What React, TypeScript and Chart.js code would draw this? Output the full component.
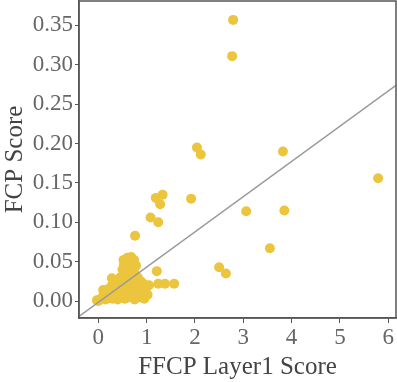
import React, { useEffect, useRef } from "react";
import { Chart, registerables } from "chart.js";

Chart.register(...registerables);

const clusterX = [0.0, 0.05, 0.1, 0.12, 0.15, 0.18, 0.2, 0.22, 0.25, 0.28, 0.3, 0.32, 0.35, 0.35, 0.38, 0.4, 0.42, 0.45, 0.45, 0.48, 0.5, 0.5, 0.52, 0.52, 0.55, 0.55, 0.58, 0.58, 0.6, 0.6, 0.62, 0.63, 0.65, 0.65, 0.67, 0.68, 0.7, 0.7, 0.72, 0.74, 0.75, 0.75, 0.78, 0.78, 0.8, 0.82, 0.85, 0.85, 0.88, 0.9, 0.92, 0.95, 0.98, 1.02, 1.05, -0.03, 0.1, 0.28, 0.53];
const clusterY = [0.0, 0.003, 0.006, 0.012, 0.002, 0.008, 0.015, 0.004, 0.01, 0.02, 0.003, 0.013, 0.006, 0.025, 0.018, 0.002, 0.01, 0.03, 0.005, 0.016, 0.022, 0.04, 0.052, 0.008, 0.035, 0.003, 0.028, 0.045, 0.012, 0.055, 0.02, 0.038, 0.005, 0.048, 0.03, 0.056, 0.015, 0.042, 0.025, 0.052, 0.002, 0.035, 0.01, 0.045, 0.02, 0.03, 0.005, 0.015, 0.025, 0.01, 0.022, 0.003, 0.015, 0.008, 0.02, 0.001, 0.014, 0.029, 0.046];
const outerX = [1.21, 0.76, 0.93, 1.24, 1.38, 1.57, 1.08, 1.24, 1.19, 1.33, 1.28, 1.92, 2.04, 2.12, 2.77, 2.79, 3.06, 3.85, 3.82, 3.55, 2.5, 2.64, 5.79];
const outerY = [0.038, 0.083, 0.022, 0.022, 0.022, 0.022, 0.106, 0.1, 0.131, 0.135, 0.123, 0.13, 0.195, 0.186, 0.311, 0.357, 0.114, 0.115, 0.19, 0.067, 0.043, 0.035, 0.156];

const xTicks = [0, 1, 2, 3, 4, 5, 6];
const yTicks = [0, 0.05, 0.1, 0.15, 0.2, 0.25, 0.3, 0.35];
const xRange = [-0.4, 6.16];
const yRange = [-0.0215, 0.381];
const fitSlope = 0.0447;
const fitIntercept = -0.0015;

const borderBox = {
  id: "borderBox",
  afterDatasetsDraw(chart: any) {
    const { ctx, chartArea } = chart;
    ctx.save();
    ctx.strokeStyle = "#555";
    ctx.lineWidth = 1.5;
    ctx.strokeRect(chartArea.left, chartArea.top, chartArea.right - chartArea.left, chartArea.bottom - chartArea.top);
    ctx.restore();
  },
};

const zeroPad = (s: any) => {
  s.paddingTop = 0;
  s.paddingBottom = 0;
  s.paddingLeft = 0;
  s.paddingRight = 0;
};

export default function App() {
  const ref = useRef<HTMLCanvasElement>(null);
  useEffect(() => {
    document.body.style.margin = "0";
    const points = [...clusterX.map((x, i) => ({ x, y: clusterY[i] })), ...outerX.map((x, i) => ({ x, y: outerY[i] }))];
    const line = xRange.map((x) => ({ x, y: fitSlope * x + fitIntercept }));
    const font = "'Liberation Serif', 'Times New Roman', serif";
    const chart = new Chart(ref.current!, {
      type: "scatter",
      data: {
        datasets: [
          {
            type: "line",
            data: line,
            borderColor: "#999",
            borderWidth: 1.5,
            pointRadius: 0,
            order: 0,
          } as any,
          {
            data: points,
            backgroundColor: "rgb(236,197,62)",
            borderWidth: 0,
            pointRadius: 5,
            order: 1,
          },
        ],
      },
      plugins: [borderBox],
      options: {
        animation: false,
        responsive: false,
        layout: { padding: { top: 1, right: 1, left: 0, bottom: 0 } },
        plugins: { legend: { display: false }, tooltip: { enabled: false } },
        scales: {
          x: {
            type: "linear",
            min: xRange[0],
            max: xRange[1],
            afterBuildTicks: (s: any) => {
              s.ticks = xTicks.map((v) => ({ value: v }));
            },
            afterFit: (s: any) => {
              s.height = 64;
              zeroPad(s);
            },
            ticks: { color: "#666", font: { family: font, size: 23 }, padding: 1, callback: (v: any) => String(v) },
            grid: { drawOnChartArea: false, drawTicks: true, tickLength: 5, color: "#555" },
            border: { color: "#555", width: 1.5 },
            title: { display: true, text: "FFCP Layer1 Score", color: "#444", font: { family: font, size: 25 }, padding: { top: 0, bottom: 0 } },
          },
          y: {
            type: "linear",
            min: yRange[0],
            max: yRange[1],
            afterBuildTicks: (s: any) => {
              s.ticks = yTicks.map((v) => ({ value: v }));
            },
            afterFit: (s: any) => {
              s.width = 79;
              zeroPad(s);
            },
            ticks: { color: "#666", font: { family: font, size: 23 }, padding: 2, callback: (v: any) => Number(v).toFixed(2) },
            grid: { drawOnChartArea: false, drawTicks: true, tickLength: 4, color: "#555" },
            border: { color: "#555", width: 1.5 },
            title: { display: true, text: "FCP Score", color: "#444", font: { family: font, size: 25 }, padding: { top: 0, bottom: 0 } },
          },
        },
      },
    } as any);
    return () => chart.destroy();
  }, []);
  return (
    <div style={{ position: "absolute", left: 0, top: 0, width: 397, height: 382, overflow: "hidden" }}>
      <canvas
        ref={ref}
        width={401}
        height={386}
        style={{ position: "absolute", left: 0, top: -4, width: 401, height: 386 }}
      />
    </div>
  );
}
